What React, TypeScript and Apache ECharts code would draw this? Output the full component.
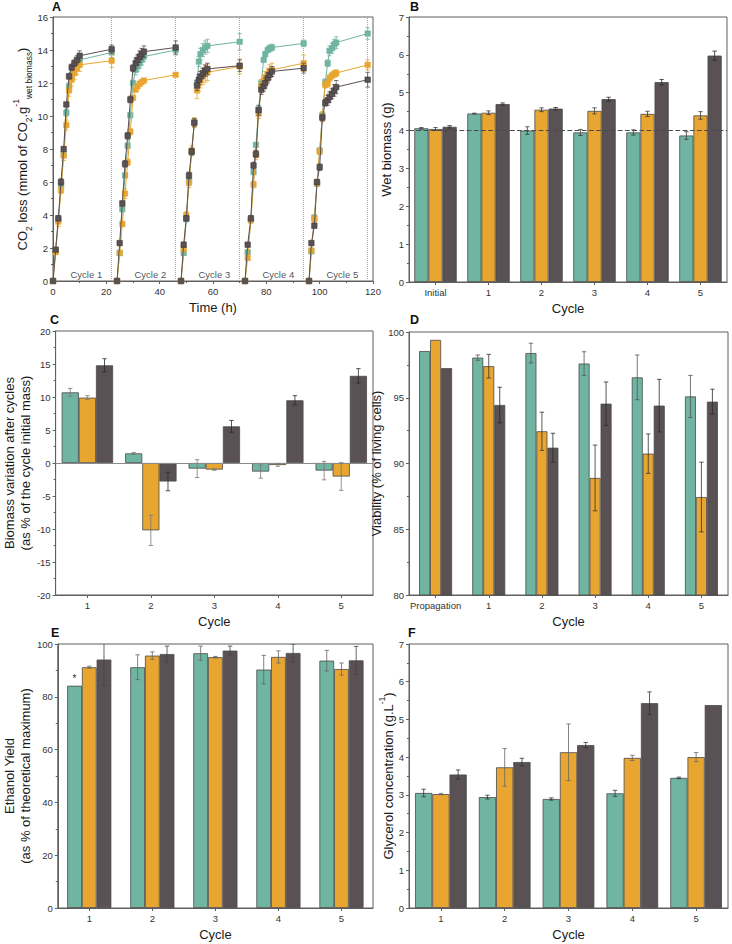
import React, { useEffect, useRef } from 'react';
import * as echarts from 'echarts';

const TEAL = '#6fb5a2';
const ORANGE = '#e8a631';
const GREY = '#595153';
const COLORS = [TEAL, ORANGE, GREY];
const FONT = '"Liberation Sans", Arial, sans-serif';

// ---------- Panel A : CO2 loss over time ----------
const cycleTimes = [
  [0, 1, 2, 3, 4, 5, 6, 7, 8, 9, 10, 22],
  [24, 25, 26, 27, 28, 29, 30, 31, 31.7, 32.5, 33.2, 34.1, 46],
  [48, 49, 50, 51, 52, 53, 54, 54.7, 55.3, 56.2, 57.1, 57.9, 70],
  [72, 73, 74.2, 75.2, 76.1, 77.1, 78.1, 79, 79.6, 80.5, 81.2, 82.1, 94],
  [96, 96.9, 98, 99, 100, 101, 102.1, 103, 103.7, 104.6, 105.5, 106.2, 118],
];
const cycleNames = ['Cycle 1', 'Cycle 2', 'Cycle 3', 'Cycle 4', 'Cycle 5'];
// index at which a new (unconnected) line segment starts, per cycle
const segmentBreaks = [[], [], [6], [], []];

const co2Teal = [
  [0, 1.85, 3.7, 5.8, 7.7, 10.2, 11.8, 12.5, 12.9, 13.1, 13.4, 13.85],
  [0, 1.7, 4.35, 6.4, 8.2, 10.05, 12.0, 12.8, 13.0, 13.2, 13.4, 13.6, 14.0],
  [0, 1.7, 3.75, 6.1, 7.8, 9.6, 12.0, 13.3, 13.75, 14.0, 14.15, 14.25, 14.5],
  [0, 1.75, 3.7, 6.6, 8.25, 10.4, 12.0, 13.4, 13.75, 14.0, 14.1, 14.15, 14.4],
  [0, 1.8, 3.85, 5.9, 7.9, 10.05, 12.05, 13.2, 13.95, 14.1, 14.35, 14.45, 15.0],
];
const co2TealErr = [
  [0, 0.1, 0.15, 0.1, 0.2, 0.2, 0.2, 0.3, 0.3, 0.3, 0.3, 0.3],
  [0, 0.1, 0.1, 0.1, 0.1, 0.1, 0.1, 0.3, 0.3, 0.3, 0.3, 0.3, 0.3],
  [0, 0.15, 0.1, 0.2, 0.2, 0.2, 0.2, 0.3, 0.35, 0.4, 0.4, 0.4, 0.5],
  [0, 0.1, 0.1, 0.1, 0.1, 0.2, 0.2, 0.1, 0.15, 0.15, 0.2, 0.2, 0.2],
  [0, 0.1, 0.1, 0.1, 0.15, 0.2, 0.2, 0.2, 0.3, 0.3, 0.3, 0.35, 0.35],
];
const co2Orange = [
  [0, 1.75, 3.6, 5.5, 7.6, 9.45, 11.55, 12.2, 12.6, 12.9, 13.1, 13.35],
  [0, 1.7, 3.45, 5.3, 7.2, 9.05, 11.1, 11.6, 11.8, 11.95, 12.05, 12.15, 12.5],
  [0, 1.95, 4.0, 5.95, 7.9, 9.6, 11.55, 12.0, 12.2, 12.4, 12.55, 12.65, 13.0],
  [0, 1.4, 3.7, 5.85, 7.65, 10.15, 11.8, 12.1, 12.3, 12.5, 12.7, 12.8, 13.2],
  [0, 1.85, 3.75, 5.95, 7.85, 9.95, 11.9, 11.95, 12.3, 12.45, 12.55, 12.6, 13.1],
];
const co2OrangeErr = [
  [0, 0.1, 0.3, 0.2, 0.3, 0.3, 0.35, 0.4, 0.4, 0.4, 0.4, 0.4],
  [0, 0.1, 0.15, 0.3, 0.2, 0.2, 0.1, 0.1, 0.1, 0.1, 0.1, 0.1, 0.1],
  [0, 0.2, 0.2, 0.3, 0.3, 0.3, 0.5, 0.5, 0.5, 0.5, 0.5, 0.5, 0.45],
  [0, 0.1, 0.2, 0.2, 0.3, 0.3, 0.4, 0.4, 0.4, 0.4, 0.4, 0.4, 0.5],
  [0, 0.1, 0.2, 0.2, 0.2, 0.3, 0.2, 0.2, 0.2, 0.2, 0.2, 0.2, 0.3],
];
const co2Grey = [
  [0, 1.9, 3.8, 6.0, 8.0, 10.7, 12.4, 12.95, 13.2, 13.4, 13.65, 14.05],
  [0, 2.3, 4.7, 7.1, 8.8, 11.0, 12.9, 13.2, 13.4, 13.6, 13.75, 13.9, 14.15],
  [0, 2.2, 3.8, 6.4, 7.85, 9.6, 11.85, 12.2, 12.4, 12.6, 12.75, 12.85, 13.05],
  [0, 2.2, 3.8, 7.0, 7.7, 10.35, 11.6, 11.8, 12.0, 12.3, 12.5, 12.7, 12.9],
  [0, 2.3, 3.35, 6.0, 6.9, 9.9, 10.8, 10.95, 11.15, 11.35, 11.55, 11.75, 12.2],
];
const co2GreyErr = [
  [0, 0.1, 0.15, 0.2, 0.1, 0.1, 0.15, 0.2, 0.2, 0.25, 0.3, 0.25],
  [0, 0.1, 0.15, 0.2, 0.2, 0.2, 0.2, 0.3, 0.3, 0.35, 0.35, 0.35, 0.4],
  [0, 0.15, 0.15, 0.2, 0.2, 0.25, 0.3, 0.3, 0.3, 0.3, 0.35, 0.35, 0.35],
  [0, 0.1, 0.15, 0.2, 0.2, 0.3, 0.3, 0.3, 0.3, 0.3, 0.3, 0.3, 0.3],
  [0, 0.1, 0.1, 0.15, 0.2, 0.2, 0.2, 0.3, 0.3, 0.3, 0.35, 0.4, 0.45],
];

// ---------- Panel B : wet biomass ----------
const bCats = ['Initial', '1', '2', '3', '4', '5'];
const bTeal = [4.06, 4.45, 4.0, 3.95, 3.95, 3.87];
const bTealErr = [0.02, 0.01, 0.1, 0.08, 0.07, 0.1];
const bOrange = [4.04, 4.47, 4.55, 4.52, 4.44, 4.4];
const bOrangeErr = [0.04, 0.05, 0.05, 0.08, 0.07, 0.1];
const bGrey = [4.1, 4.7, 4.58, 4.83, 5.28, 5.98];
const bGreyErr = [0.03, 0.03, 0.03, 0.05, 0.07, 0.12];
const bReference = 4;

// ---------- Panel C : biomass variation ----------
const cCats = ['1', '2', '3', '4', '5'];
const cTeal = [10.7, 1.46, -0.85, -1.3, -1.15];
const cTealErr = [0.6, 0.15, 1.35, 1.0, 1.4];
const cOrange = [9.9, -10.2, -1.0, -0.3, -2.05];
const cOrangeErr = [0.3, 2.3, 0.1, 0.2, 2.1];
const cGrey = [14.8, -2.8, 5.55, 9.5, 13.2];
const cGreyErr = [1.0, 1.4, 0.9, 0.7, 1.1];

// ---------- Panel D : viability ----------
const dCats = ['Propagation', '1', '2', '3', '4', '5'];
const dTeal = [98.55, 98.05, 98.4, 97.6, 96.55, 95.1];
const dTealErr = [0, 0.2, 0.75, 0.9, 1.7, 1.6];
const dOrange = [99.4, 97.4, 92.45, 88.9, 90.75, 87.45];
const dOrangeErr = [0, 0.9, 1.45, 2.5, 1.5, 2.65];
const dGrey = [97.25, 94.45, 91.2, 94.55, 94.4, 94.7];
const dGreyErr = [0, 1.35, 1.1, 1.65, 2.0, 0.95];

// ---------- Panel E : ethanol yield ----------
const eCats = ['1', '2', '3', '4', '5'];
const eTeal = [84.2, 91.2, 96.5, 90.3, 93.7];
const eTealErr = [0, 4.7, 2.7, 5.4, 3.9];
const eTealMarks = ['*', '', '', '', ''];
const eOrange = [91.2, 95.6, 95.0, 95.1, 90.5];
const eOrangeErr = [0.4, 1.4, 0.3, 2.3, 2.3];
const eGrey = [94.1, 96.2, 97.5, 96.6, 93.8];
const eGreyErr = [9.8, 3.0, 1.7, 3.4, 5.3];

// ---------- Panel F : glycerol ----------
const fCats = ['1', '2', '3', '4', '5'];
const fTeal = [3.05, 2.94, 2.89, 3.04, 3.45];
const fTealErr = [0.1, 0.05, 0.03, 0.08, 0.02];
const fOrange = [3.02, 3.73, 4.13, 3.98, 4.0];
const fOrangeErr = [0.02, 0.5, 0.75, 0.07, 0.12];
const fGrey = [3.54, 3.87, 4.32, 5.43, 5.38];
const fGreyErr = [0.12, 0.1, 0.07, 0.3, 0];

const AX = '#5f5f5f';

function valueAxis(g: number, min: number, max: number, interval: number, name: string, nameGap: number, extra: any = {}) {
  return {
    type: 'value', gridIndex: g, min, max, interval,
    name, nameLocation: 'middle', nameGap, nameRotate: 90,
    nameTextStyle: { fontSize: 13, color: '#1a1a1a', fontFamily: FONT, lineHeight: 16 },
    axisLine: { show: true, onZero: false, lineStyle: { color: AX, width: 1 } },
    axisTick: { show: true, length: 3, lineStyle: { color: AX } },
    minorTick: { show: true, splitNumber: 2, length: 2, lineStyle: { color: AX } },
    axisLabel: { fontSize: 9.5, color: '#333', fontFamily: FONT, margin: 5 },
    splitLine: { show: false },
    ...extra,
  };
}

function catAxis(g: number, cats: string[]) {
  return {
    type: 'category', gridIndex: g, data: cats,
    name: 'Cycle', nameLocation: 'middle', nameGap: 20,
    nameTextStyle: { fontSize: 13, color: '#1a1a1a', fontFamily: FONT },
    axisLine: { show: true, onZero: false, lineStyle: { color: AX, width: 1 } },
    axisTick: { show: true, alignWithLabel: true, interval: 0, length: 3, lineStyle: { color: AX } },
    axisLabel: { fontSize: 9.5, color: '#333', fontFamily: FONT, margin: 5, interval: 0 },
    splitLine: { show: false },
  };
}

function errorRender(color: string, idx: number | null, gap: number) {
  return (params: any, api: any) => {
    const c = api.value(0), v = api.value(1), e = api.value(2);
    if (!e) return { type: 'group', children: [] };
    const p1 = api.coord([c, v + e]);
    const p2 = api.coord([c, v - e]);
    let x = p1[0];
    const cap = 2.2;
    if (idx !== null) {
      const band = api.size([1, 0])[0];
      const bw = band * (1 - gap) / 3;
      x += (idx - 1) * bw;
    }
    const style = { stroke: color, lineWidth: 0.8 };
    return {
      type: 'group', children: [
        { type: 'line', shape: { x1: x, y1: p1[1], x2: x, y2: p2[1] }, style },
        { type: 'line', shape: { x1: x - cap, y1: p1[1], x2: x + cap, y2: p1[1] }, style },
        { type: 'line', shape: { x1: x - cap, y1: p2[1], x2: x + cap, y2: p2[1] }, style },
      ],
    };
  };
}

function barPanel(g: number, cats: string[], vals: number[][], errs: number[][], gap: number,
  extras: any[] = [{}, {}, {}], errColors = ['#3c3c3c', '#3c3c3c', '#2a2a2a'], marks: (string[] | null)[] = [null, null, null]) {
  const out: any[] = [];
  vals.forEach((v, i) => {
    const m = marks[i];
    out.push({
      type: 'bar', xAxisIndex: g, yAxisIndex: g,
      data: m ? v.map((val, k) => ({
        value: val,
        label: { show: !!m[k], formatter: m[k], position: 'top', distance: 2, fontSize: 10, color: '#333', fontFamily: FONT },
      })) : v,
      barGap: '0%', barCategoryGap: `${gap * 100}%`,
      itemStyle: { color: COLORS[i], borderColor: '#4a4a4a', borderWidth: 0.8 },
      clip: true, silent: true,
      ...extras[i],
    });
  });
  vals.forEach((v, i) => {
    out.push({
      type: 'custom', xAxisIndex: g, yAxisIndex: g, z: 5, silent: true, clip: true,
      data: v.map((val, k) => [cats[k], val, errs[i][k]]),
      encode: { x: 0, y: 1 },
      renderItem: errorRender(errColors[i], i, gap),
    });
  });
  return out;
}

export default function App() {
  const ref = useRef<HTMLDivElement>(null);
  useEffect(() => {
    if (!ref.current) return;
    const chart = echarts.init(ref.current, null, { renderer: 'svg' });

    const grids = [
      { left: 53, top: 17, width: 320, height: 264 },
      { left: 409, top: 17, width: 318, height: 265 },
      { left: 53, top: 331, width: 320, height: 264 },
      { left: 409, top: 332, width: 319, height: 263 },
      { left: 53, top: 644, width: 320, height: 264 },
      { left: 409, top: 644, width: 319, height: 264 },
    ].map((g) => ({ ...g, show: true, borderColor: AX, borderWidth: 1, backgroundColor: 'transparent' }));

    // Panel A series
    const aSeries: any[] = [];
    const strains = [co2Teal, co2Orange, co2Grey];
    const strainErrs = [co2TealErr, co2OrangeErr, co2GreyErr];
    strains.forEach((cycles, s) => {
      const errData: any[] = [];
      cycles.forEach((vals, c) => {
        const br = [0, ...segmentBreaks[c], vals.length];
        for (let k = 0; k < br.length - 1; k++) {
          const pts: number[][] = [];
          for (let i = br[k]; i < br[k + 1]; i++) pts.push([cycleTimes[c][i], vals[i]]);
          aSeries.push({
            type: 'line', xAxisIndex: 0, yAxisIndex: 0, data: pts,
            symbol: 'rect', symbolSize: 5.5, silent: true,
            lineStyle: { color: COLORS[s], width: 1 },
            itemStyle: { color: COLORS[s], borderColor: s === 2 ? '#3a3335' : COLORS[s], borderWidth: 0.5 },
            z: 3 + s,
          });
        }
        vals.forEach((v, i) => errData.push([cycleTimes[c][i], v, strainErrs[s][c][i]]));
      });
      aSeries.push({
        type: 'custom', xAxisIndex: 0, yAxisIndex: 0, z: 3 + s, silent: true,
        data: errData, encode: { x: 0, y: 1 },
        renderItem: errorRender(COLORS[s], null, 0),
      });
    });
    // cycle labels + dotted separators
    aSeries.push({
      type: 'scatter', xAxisIndex: 0, yAxisIndex: 0, symbolSize: 0, silent: true,
      data: cycleNames.map((n, c) => ({ value: [cycleTimes[c][0] + 12.5, 0.38], name: n })),
      label: { show: true, position: 'inside', formatter: (p: any) => p.name, fontSize: 9.5, color: '#222', fontFamily: FONT },
      markLine: {
        silent: true, symbol: ['none', 'none'], label: { show: false },
        lineStyle: { type: 'dotted', color: '#a8a8a8', width: 1 },
        data: cycleTimes.map((t) => ({ xAxis: t[t.length - 1] })),
      },
    });

    const richName = {
      n: { fontSize: 13, fontFamily: FONT, color: '#1a1a1a', lineHeight: 22 },
      sub: { fontSize: 8.5, fontFamily: FONT, color: '#1a1a1a', verticalAlign: 'bottom' },
      sup: { fontSize: 8.5, fontFamily: FONT, color: '#1a1a1a', verticalAlign: 'top' },
    };

    const option: any = {
      animation: false,
      backgroundColor: '#ffffff',
      grid: grids,
      xAxis: [
        {
          type: 'value', gridIndex: 0, min: 0, max: 120, interval: 20,
          name: 'Time (h)', nameLocation: 'middle', nameGap: 20,
          nameTextStyle: { fontSize: 13, color: '#1a1a1a', fontFamily: FONT },
          axisLine: { show: true, onZero: false, lineStyle: { color: AX } },
          axisTick: { show: true, length: 3, lineStyle: { color: AX } },
          minorTick: { show: true, splitNumber: 2, length: 2, lineStyle: { color: AX } },
          axisLabel: { fontSize: 9.5, color: '#333', fontFamily: FONT, margin: 5 },
          splitLine: { show: false },
        },
        catAxis(1, bCats),
        catAxis(2, cCats),
        catAxis(3, dCats),
        catAxis(4, eCats),
        catAxis(5, fCats),
      ],
      yAxis: [
        valueAxis(0, 0, 16, 2, '{n|CO}{sub|2}{n| loss (mmol of CO}{sub|2}{n|.g}{sup|-1}{sub|wet biomass}{n|)}', 17, {
          nameTextStyle: { fontSize: 13, color: '#1a1a1a', fontFamily: FONT, rich: richName },
        }),
        valueAxis(1, 0, 7, 1, 'Wet biomass (g)', 10),
        valueAxis(2, -20, 20, 5, 'Biomass variation after cycles\n(as % of the cycle initial mass)', 20),
        valueAxis(3, 80, 100, 5, 'Viability (% of living cells)', 17),
        valueAxis(4, 0, 100, 20, 'Ethanol Yield\n(as % of theoretical maximum)', 22),
        valueAxis(5, 0, 7, 1, '{n|Glycerol concentration (g.L}{sup|-1}{n|)}', 9, {
          nameTextStyle: { fontSize: 13, color: '#1a1a1a', fontFamily: FONT, rich: richName },
        }),
      ],
      graphic: [
        ['A', 52, 0], ['B', 410, 0], ['C', 50, 313], ['D', 410, 313], ['E', 51, 626], ['F', 408, 626],
      ].map(([t, l, tp]) => ({
        type: 'text', left: l, top: tp,
        style: { text: t, fontSize: 12.5, fontWeight: 'bold', fontFamily: FONT, fill: '#111' },
      })),
      series: [
        ...aSeries,
        ...barPanel(1, bCats, [bTeal, bOrange, bGrey], [bTealErr, bOrangeErr, bGreyErr], 0.2, [{}, {}, {
          markLine: {
            silent: true, symbol: ['none', 'none'], label: { show: false },
            lineStyle: { type: 'dashed', color: '#4a4a4a', width: 1.2 },
            data: [{ yAxis: bReference }],
          },
        }]),
        ...barPanel(2, cCats, [cTeal, cOrange, cGrey], [cTealErr, cOrangeErr, cGreyErr], 0.19, [{}, {}, {
          markLine: {
            silent: true, symbol: ['none', 'none'], label: { show: false },
            lineStyle: { type: 'solid', color: '#8a8a8a', width: 1 },
            data: [{ yAxis: 0 }],
          },
        }], ['#777', '#777', '#2a2a2a']),
        ...barPanel(3, dCats, [dTeal, dOrange, dGrey], [dTealErr, dOrangeErr, dGreyErr], 0.38, undefined, ['#555', '#333', '#2a2a2a']),
        ...barPanel(4, eCats, [eTeal, eOrange, eGrey], [eTealErr, eOrangeErr, eGreyErr], 0.3, undefined, ['#666', '#666', '#444'], [eTealMarks, null, null]),
        ...barPanel(5, fCats, [fTeal, fOrange, fGrey], [fTealErr, fOrangeErr, fGreyErr], 0.19, undefined, ['#333', '#666', '#333']),
      ],
    };

    chart.setOption(option);
    return () => chart.dispose();
  }, []);

  return <div ref={ref} style={{ position: 'absolute', left: 0, top: 0, width: 732, height: 944 }} />;
}
